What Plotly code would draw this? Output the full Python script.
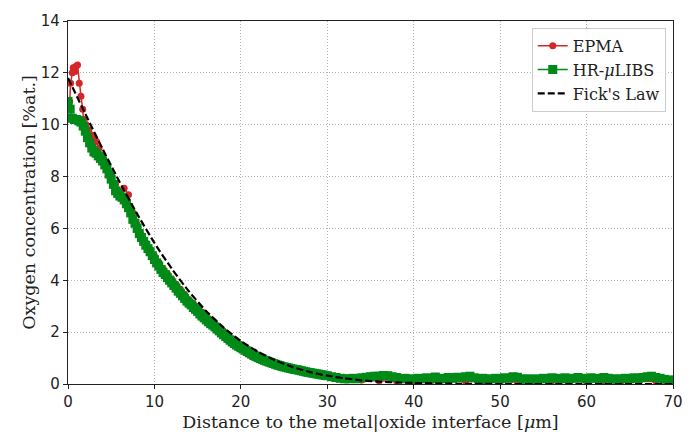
import plotly.graph_objects as go

# ---- data ----
epma_x = [0.2, 0.3, 0.5, 0.6, 0.8, 0.9, 1.1, 1.3, 1.5, 1.7, 1.8, 2.1, 2.4, 2.7, 3.0, 3.3, 3.6, 3.9, 4.2,
          4.5, 5.0, 5.5, 6.0, 6.5, 7.0, 7.5, 8.0, 8.5, 9.0, 9.5, 10.0, 10.5, 11.0, 11.5, 12.0, 12.5, 13.0,
          13.5, 14.0, 14.5, 15.0, 15.5, 16.0, 16.5, 17.0, 17.5, 18.0, 18.5, 19.0, 19.5, 20.0, 20.5, 21.0,
          21.5, 22.0, 22.5, 23.0, 23.5, 24.0, 24.5, 25.0, 25.5, 26.0, 26.5, 27.0, 27.5, 28.0, 29.0, 30.0,
          32.0, 34.0, 36.0, 38.0, 40.0, 42.0, 44.0, 46.0, 48.0, 50.0, 52.0, 54.0, 56.0, 58.0, 60.0, 62.0,
          64.0, 66.0, 68.0, 70.0]
epma_y = [10.9, 11.6, 12.0, 12.2, 12.05, 12.25, 12.3, 11.6, 11.1, 10.6, 10.2, 10.0, 9.8, 9.6, 9.5, 9.35, 9.1, 8.8, 8.6,
          8.4, 8.05, 7.7, 7.45, 7.55, 7.3, 6.6, 6.15, 5.75, 5.45, 5.2, 4.95, 4.7, 4.45, 4.25, 4.05, 3.85, 3.65,
          3.45, 3.25, 3.1, 2.95, 2.78, 2.62, 2.48, 2.33, 2.18, 2.03, 1.88, 1.75, 1.62, 1.52, 1.42, 1.32,
          1.22, 1.12, 1.03, 0.95, 0.88, 0.82, 0.76, 0.7, 0.65, 0.6, 0.56, 0.5, 0.46, 0.42, 0.35, 0.28,
          0.2, 0.15, 0.12, 0.12, 0.1, 0.12, 0.1, 0.1, 0.12, 0.1, 0.08, 0.1, 0.12, 0.1, 0.1, 0.12,
          0.1, 0.1, 0.12, 0.1]

libs_x = [0.0, 0.25, 0.5, 0.75, 1.0, 1.25, 1.5, 1.75, 2.0, 2.25, 2.5, 2.75, 3.0, 3.25, 3.5, 3.75,
          4.0, 4.25, 4.5, 4.75, 5.0, 5.25, 5.5, 5.75, 6.0, 6.25, 6.5, 6.75, 7.0, 7.25, 7.5, 7.75,
          8.0, 8.25, 8.5, 8.75, 9.0, 9.25, 9.5, 9.75, 10.0, 10.25, 10.5, 10.75, 11.0, 11.25, 11.5, 11.75,
          12.0, 12.25, 12.5, 12.75, 13.0, 13.25, 13.5, 13.75, 14.0, 14.25, 14.5, 14.75, 15.0, 15.25, 15.5, 15.75,
          16.0, 16.25, 16.5, 16.75, 17.0, 17.25, 17.5, 17.75, 18.0, 18.25, 18.5, 18.75, 19.0, 19.25, 19.5, 19.75,
          20.0, 20.25, 20.5, 20.75, 21.0, 21.25, 21.5, 21.75, 22.0, 22.25, 22.5, 22.75, 23.0, 23.25, 23.5, 23.75,
          24.0, 24.25, 24.5, 24.75, 25.0, 25.25, 25.5, 25.75, 26.0, 26.25, 26.5, 26.75, 27.0, 27.25, 27.5, 27.75,
          28.0, 28.25, 28.5, 28.75, 29.0, 29.25, 29.5, 29.75, 30.0,
          30.5, 31.0, 31.5, 32.0, 32.5, 33.0, 33.5,
          34.0, 34.5, 35.0, 35.5, 36.0, 36.5, 37.0, 37.5, 38.0, 38.5, 39.0, 39.5, 40.0, 40.5, 41.0, 41.5,
          42.0, 42.5, 43.0, 43.5, 44.0, 44.5, 45.0, 45.5, 46.0, 46.5, 47.0, 47.5, 48.0, 48.5, 49.0, 49.5,
          50.0, 50.5, 51.0, 51.5, 52.0, 52.5, 53.0, 53.5, 54.0, 54.5, 55.0, 55.5, 56.0, 56.5, 57.0, 57.5,
          58.0, 58.5, 59.0, 59.5, 60.0, 60.5, 61.0, 61.5, 62.0, 62.5, 63.0, 63.5, 64.0, 64.5, 65.0, 65.5,
          66.0, 66.5, 67.0, 67.5, 68.0, 68.5, 69.0, 69.5, 70.0]
libs_y = [10.9, 10.6, 10.25, 10.2, 10.2, 10.15, 10.1, 9.95, 9.75, 9.5, 9.3, 9.1, 8.95, 8.9, 8.8, 8.7,
          8.6, 8.45, 8.3, 8.1, 7.9, 7.7, 7.45, 7.35, 7.25, 7.2, 7.1, 6.95, 6.8, 6.6, 6.35, 6.2,
          6.0, 5.8, 5.65, 5.5, 5.35, 5.22, 5.1, 4.95, 4.8, 4.67, 4.55, 4.42, 4.3, 4.22, 4.1, 4.0,
          3.9, 3.8, 3.7, 3.58, 3.5, 3.4, 3.3, 3.2, 3.12, 3.05, 2.95, 2.88, 2.8, 2.7, 2.62, 2.55,
          2.47, 2.4, 2.33, 2.27, 2.2, 2.12, 2.05, 1.97, 1.9, 1.83, 1.76, 1.69, 1.62, 1.56, 1.5, 1.45,
          1.4, 1.35, 1.3, 1.25, 1.2, 1.15, 1.1, 1.06, 1.02, 0.98, 0.95, 0.91, 0.88, 0.85, 0.82, 0.79,
          0.76, 0.73, 0.71, 0.68, 0.66, 0.64, 0.62, 0.6, 0.58, 0.56, 0.55, 0.53, 0.51, 0.49, 0.47, 0.45,
          0.44, 0.42, 0.41, 0.39, 0.38, 0.36, 0.35, 0.33, 0.32,
          0.28, 0.25, 0.22, 0.2, 0.2, 0.22, 0.2,
          0.24, 0.26, 0.28, 0.3, 0.3, 0.33, 0.32, 0.28, 0.25, 0.2, 0.22, 0.18, 0.2, 0.22, 0.2, 0.24,
          0.2, 0.27, 0.22, 0.2, 0.25, 0.22, 0.26, 0.24, 0.28, 0.3, 0.24, 0.2, 0.22, 0.18, 0.2, 0.22,
          0.2, 0.24, 0.22, 0.28, 0.26, 0.2, 0.18, 0.2, 0.17, 0.2, 0.22, 0.2, 0.24, 0.22, 0.2, 0.24,
          0.2, 0.22, 0.25, 0.22, 0.2, 0.24, 0.22, 0.2, 0.25, 0.22, 0.2, 0.18, 0.2, 0.22, 0.2, 0.24,
          0.22, 0.25, 0.28, 0.3, 0.25, 0.22, 0.18, 0.15, 0.15]

fick_x = [0, 2, 4, 6, 8, 10, 12, 14, 16, 18, 20, 22, 24, 26, 28, 30, 32, 34, 36, 38, 40, 45, 50, 60, 70]
fick_y = [11.8, 10.42, 9.07, 7.77, 6.56, 5.44, 4.45, 3.57, 2.81, 2.18, 1.66, 1.24, 0.91, 0.65, 0.46,
          0.32, 0.22, 0.14, 0.09, 0.06, 0.04, 0.01, 0.0, 0.0, 0.0]

x_ticks = [0, 10, 20, 30, 40, 50, 60, 70]
y_ticks = [0, 2, 4, 6, 8, 10, 12, 14]

RED = "#d62728"
GREEN = "#008a17"
SERIF = "DejaVu Serif"
SANS = "DejaVu Sans"

fig = go.Figure()
fig.add_trace(go.Scatter(
    x=epma_x, y=epma_y, mode="lines+markers", name="EPMA",
    line=dict(color=RED, width=1.5),
    marker=dict(color=RED, size=7, symbol="circle"),
))
fig.add_trace(go.Scatter(
    x=libs_x, y=libs_y, mode="lines+markers", name="HR-<i>μ</i>LIBS",
    line=dict(color=GREEN, width=1.5),
    marker=dict(color=GREEN, size=9, symbol="square"),
))
fig.add_trace(go.Scatter(
    x=fick_x, y=fick_y, mode="lines", name="Fick's Law",
    line=dict(color="black", width=2.2, dash="7px,3px", shape="spline", smoothing=0.6),
))

axis_common = dict(
    showline=True, linecolor="#222", linewidth=1.2, mirror=True,
    ticks="outside", ticklen=4, tickwidth=1, tickcolor="#222",
    showgrid=True, gridcolor="#b4b4b4", griddash="1px,2px", gridwidth=1,
    zeroline=False,
    tickfont=dict(family=SANS, size=15, color="#222"),
)

fig.update_layout(
    width=697, height=432,
    margin=dict(l=68, r=24, t=16, b=48),
    paper_bgcolor="white", plot_bgcolor="white",
    showlegend=True,
    legend=dict(
        x=0.988, y=0.981, xanchor="right", yanchor="top",
        bgcolor="rgba(255,255,255,0.85)", bordercolor="#cccccc", borderwidth=1,
        font=dict(family=SERIF, size=16, color="#222"),
        tracegroupgap=0, itemwidth=30,
    ),
    xaxis=dict(
        range=[0, 70], tickvals=x_ticks, automargin=False,
        title=dict(text="Distance to the metal|oxide interface [<i>μ</i>m]",
                   font=dict(family=SERIF, size=17.5, color="#222")),
        **axis_common,
    ),
    yaxis=dict(
        range=[0, 14], tickvals=y_ticks, automargin=True,
        title=dict(text="Oxygen concentration [%at.]",
                   font=dict(family=SERIF, size=17.5, color="#222"), standoff=0),
        **axis_common,
    ),
)

fig.write_html("out.html")
